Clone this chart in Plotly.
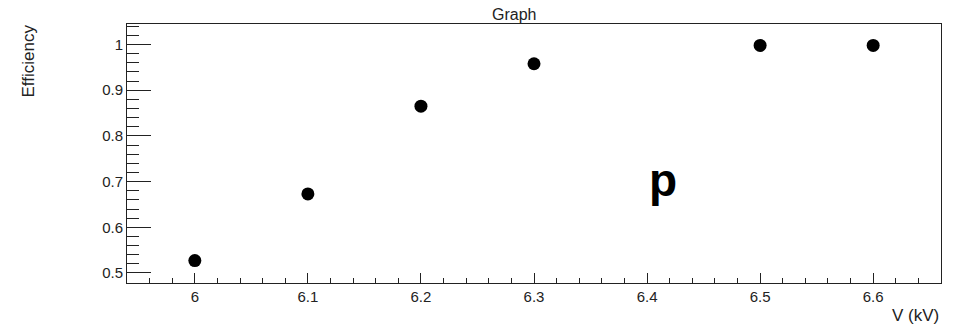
import plotly.graph_objects as go

voltage_kv = [6.0, 6.1, 6.2, 6.3, 6.5, 6.6]
efficiency = [0.527, 0.673, 0.865, 0.958, 0.998, 0.998]

x_range = [5.94, 6.66]
y_range = [0.478, 1.045]

W, H = 957, 328
ML, MR, MT, MB = 127, 16, 24, 45
PW, PH = W - ML - MR, H - MT - MB

def px(X):
    return (X - ML) / PW

def py(Y):
    return (H - MB - Y) / PH

fig = go.Figure()
fig.add_trace(go.Scatter(
    x=voltage_kv, y=efficiency, mode="markers",
    marker=dict(color="black", size=13, line=dict(width=0)),
    showlegend=False, hoverinfo="x+y"))

axis_common = dict(
    showgrid=False, zeroline=False, showline=True, linecolor="#222222",
    linewidth=1, mirror=True, ticks="inside", tickcolor="#222222",
    tickwidth=1, tickfont=dict(family="Liberation Sans, Arial", size=15, color="#222222"),
)

fig.update_xaxes(range=x_range, dtick=0.1, tick0=6.0, ticklen=10,
                 minor=dict(ticks="inside", dtick=0.02, ticklen=5, tickcolor="#222222"),
                 **axis_common)
fig.update_yaxes(range=y_range, dtick=0.1, tick0=0.5, ticklen=24,
                 tickformat="~g",
                 minor=dict(ticks="inside", dtick=0.02, ticklen=12, tickcolor="#222222"),
                 **axis_common)

fig.add_annotation(text="Graph", xref="paper", yref="paper", x=px(514), y=py(14),
                   xanchor="center", yanchor="middle", showarrow=False,
                   font=dict(family="Liberation Sans, Arial", size=16, color="#222222"))
fig.add_annotation(text="Efficiency", xref="paper", yref="paper", x=px(28), y=py(23),
                   xanchor="center", yanchor="top", textangle=-90, showarrow=False,
                   font=dict(family="Liberation Sans, Arial", size=17, color="#222222"))
fig.add_annotation(text="V (kV)", xref="paper", yref="paper", x=1.0, y=py(315),
                   xanchor="right", yanchor="middle", showarrow=False,
                   font=dict(family="Liberation Sans, Arial", size=17, color="#222222"))
fig.add_annotation(text="<b>p</b>", xref="x", yref="y", x=6.414, y=0.703,
                   xanchor="center", yanchor="middle", showarrow=False,
                   font=dict(family="Liberation Sans, Arial", size=46, color="black"))

fig.update_layout(width=W, height=H, margin=dict(l=ML, r=MR, t=MT, b=MB),
                  plot_bgcolor="white", paper_bgcolor="white")

fig.write_html("out.html")
